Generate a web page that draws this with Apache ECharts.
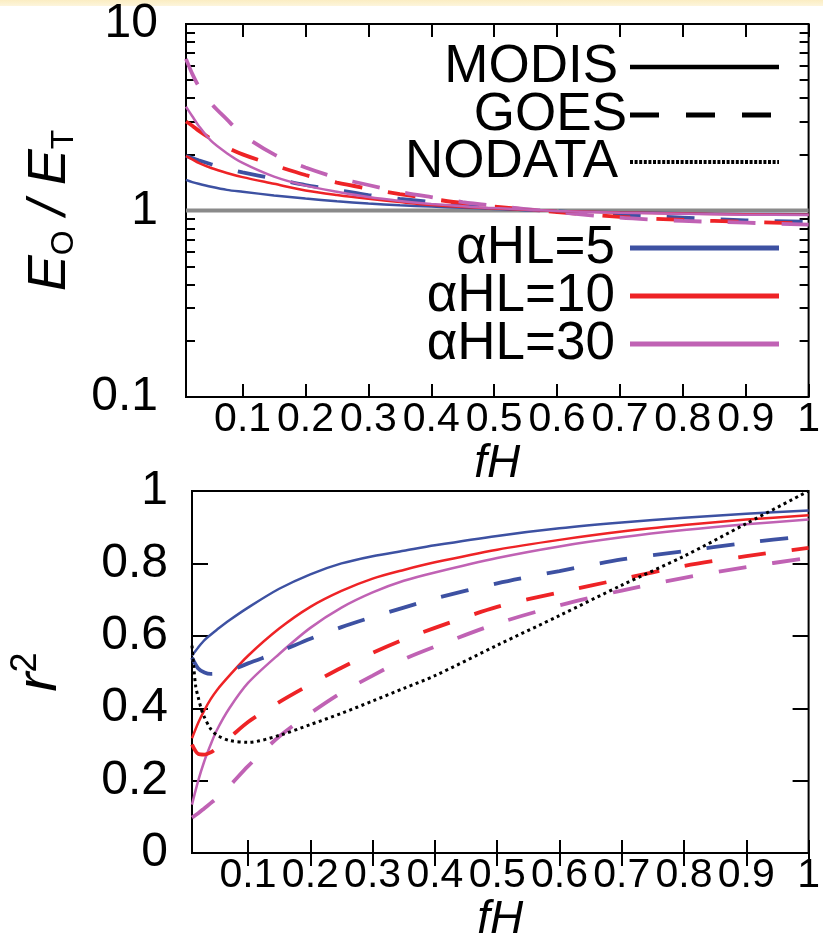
<!DOCTYPE html>
<html>
<head>
<meta charset="utf-8">
<script src="https://cdn.jsdelivr.net/npm/echarts@6/dist/echarts.min.js"></script>
<style>
  html, body { margin: 0; padding: 0; background: #fff; }
  #chart { width: 823px; height: 944px; }
</style>
</head>
<body>
<div id="chart"></div>
<script>
// ---- data ----
// top panel: E_O / E_T against fH (log y)
var fhTop = [0.01, 0.02, 0.03, 0.05, 0.075, 0.1, 0.15, 0.2, 0.25, 0.3, 0.35, 0.4, 0.45, 0.5, 0.6, 0.7, 0.8, 0.9, 1.0];
var ratioModis5  = [1.46, 1.42, 1.39, 1.34, 1.29, 1.26, 1.205, 1.16, 1.12, 1.09, 1.066, 1.05, 1.035, 1.02, 0.995, 0.978, 0.966, 0.958, 0.955];
var ratioModis10 = [1.96, 1.88, 1.80, 1.69, 1.59, 1.51, 1.39, 1.28, 1.21, 1.155, 1.11, 1.07, 1.045, 1.025, 0.995, 0.975, 0.963, 0.955, 0.95];
var ratioModis30 = [3.6, 3.2, 2.85, 2.36, 2.03, 1.80, 1.52, 1.36, 1.26, 1.18, 1.125, 1.085, 1.055, 1.03, 0.995, 0.972, 0.96, 0.95, 0.945];
var ratioGoes5   = [1.96, 1.91, 1.86, 1.77, 1.67, 1.60, 1.48, 1.37, 1.29, 1.21, 1.155, 1.11, 1.065, 1.035, 0.99, 0.95, 0.915, 0.885, 0.87];
var ratioGoes10  = [3.0, 2.85, 2.68, 2.42, 2.18, 2.0, 1.75, 1.55, 1.41, 1.31, 1.225, 1.155, 1.095, 1.05, 0.98, 0.925, 0.89, 0.87, 0.85];
var ratioGoes30  = [6.5, 5.4, 4.65, 3.75, 3.08, 2.55, 2.0, 1.70, 1.50, 1.37, 1.26, 1.18, 1.11, 1.06, 0.98, 0.915, 0.88, 0.86, 0.84];
var refFh = [0.01, 1.0];
var refRatio = [1, 1];

// bottom panel: r^2 against fH
var fhBot = [0.01, 0.02, 0.03, 0.04, 0.05, 0.07, 0.1, 0.15, 0.2, 0.25, 0.3, 0.35, 0.4, 0.5, 0.6, 0.7, 0.8, 0.9, 1.0];
var r2Modis5  = [0.546, 0.568, 0.588, 0.603, 0.617, 0.643, 0.678, 0.73, 0.77, 0.80, 0.82, 0.835, 0.85, 0.876, 0.897, 0.913, 0.926, 0.937, 0.946];
var r2Modis10 = [0.317, 0.36, 0.395, 0.425, 0.45, 0.49, 0.545, 0.62, 0.68, 0.724, 0.758, 0.782, 0.803, 0.838, 0.865, 0.888, 0.906, 0.921, 0.933];
var r2Modis30 = [0.134, 0.20, 0.255, 0.30, 0.34, 0.40, 0.47, 0.55, 0.622, 0.678, 0.72, 0.752, 0.775, 0.815, 0.847, 0.872, 0.892, 0.908, 0.921];
var r2Goes5   = [0.54, 0.51, 0.499, 0.495, 0.496, 0.503, 0.524, 0.556, 0.592, 0.624, 0.652, 0.678, 0.703, 0.745, 0.779, 0.811, 0.834, 0.857, 0.876];
var r2Goes10  = [0.30, 0.274, 0.272, 0.278, 0.29, 0.318, 0.362, 0.417, 0.466, 0.512, 0.553, 0.59, 0.622, 0.68, 0.72, 0.757, 0.793, 0.82, 0.843];
var r2Goes30  = [0.098, 0.11, 0.124, 0.138, 0.152, 0.185, 0.24, 0.322, 0.386, 0.443, 0.49, 0.535, 0.57, 0.634, 0.684, 0.725, 0.76, 0.79, 0.815];
var fhNodata = [0.01, 0.0125, 0.016, 0.02, 0.025, 0.03, 0.04, 0.05, 0.07, 0.1, 0.15, 0.2, 0.25, 0.3, 0.35, 0.4, 0.5, 0.6, 0.7, 0.8, 0.9, 1.0];
var r2Nodata = [0.573, 0.52, 0.46, 0.43, 0.397, 0.375, 0.343, 0.326, 0.311, 0.306, 0.325, 0.355, 0.386, 0.42, 0.455, 0.49, 0.574, 0.656, 0.74, 0.82, 0.91, 1.0];

// tick values
var xTicks = [0.1, 0.2, 0.3, 0.4, 0.5, 0.6, 0.7, 0.8, 0.9, 1];
var logMajor = [0.1, 1, 10];
var logMinor = [0.2, 0.3, 0.4, 0.5, 0.6, 0.7, 0.8, 0.9, 2, 3, 4, 5, 6, 7, 8, 9];

var legendSources = ['MODIS', 'GOES', 'NODATA'];
var legendAlpha = ['\u03b1HL=5', '\u03b1HL=10', '\u03b1HL=30'];

var BLUE = '#3d51a2', RED = '#ee2326', MAG = '#c062b4';
var FONT = 'Liberation Sans, Arial, Helvetica, sans-serif';

function pairs(xs, ys) {
  return xs.map(function (x, i) { return [x, ys[i]]; });
}

var chart = echarts.init(document.getElementById('chart'));

// x axes: labelled one at bottom, tick-only mirror at top
function xAxisFor(grid, withLabels) {
  return {
    gridIndex: grid, type: 'value', min: 0.01, max: 1,
    position: withLabels ? 'bottom' : 'top',
    axisLine: { show: false },
    splitLine: { show: false },
    axisTick: { show: true, inside: true, length: 13, customValues: xTicks,
      lineStyle: { color: '#000', width: 2 } },
    axisLabel: { show: withLabels, customValues: xTicks, margin: 2,
      fontSize: 41, color: '#000', fontFamily: FONT },
    name: withLabels ? 'fH' : '',
    nameLocation: 'middle', nameGap: 38,
    nameTextStyle: { fontSize: 46, fontStyle: 'italic', color: '#000', fontFamily: FONT }
  };
}

function logAxis(pos, ticks, len, withLabels) {
  return {
    gridIndex: 0, type: 'log', logBase: 10, min: 0.1, max: 10, position: pos,
    axisLine: { show: false },
    splitLine: { show: false },
    axisTick: { show: true, inside: true, length: len, customValues: ticks,
      lineStyle: { color: '#000', width: 2 } },
    axisLabel: { show: withLabels, customValues: logMajor, margin: 28,
      fontSize: 48, color: '#000', fontFamily: FONT }
  };
}

var topY = logAxis('left', logMajor, 16, true);
topY.name = '{e|E}{s|O}{e| / E}{s|T}';
topY.nameLocation = 'middle';
topY.nameRotate = 90;
topY.nameGap = 102;
topY.nameTextStyle = {
  color: '#000',
  rich: {
    e: { fontSize: 54, fontStyle: 'italic', fontFamily: FONT, lineHeight: 60 },
    s: { fontSize: 32, fontFamily: FONT, verticalAlign: 'bottom', lineHeight: 40 }
  }
};

function linAxis(pos, withLabels) {
  var a = {
    gridIndex: 1, type: 'value', min: 0, max: 1, interval: 0.2, position: pos,
    axisLine: { show: false },
    splitLine: { show: false },
    axisTick: { show: true, inside: true, length: 16, lineStyle: { color: '#000', width: 2 } },
    axisLabel: { show: withLabels, margin: 24, fontSize: 48, color: '#000', fontFamily: FONT }
  };
  if (withLabels) {
    a.name = '{e|r}{p|2}';
    a.nameLocation = 'middle';
    a.nameRotate = 90;
    a.nameGap = 120;
    a.nameTextStyle = {
      color: '#000',
      rich: {
        e: { fontSize: 58, fontStyle: 'italic', fontFamily: FONT, lineHeight: 64 },
        p: { fontSize: 36, fontFamily: FONT, verticalAlign: 'top', lineHeight: 40 }
      }
    };
  }
  return a;
}

function curve(name, xs, ys, xi, yi, color, kind) {
  var ls = { color: color, width: 2.5, type: 'solid', cap: 'butt' };
  if (kind === 'dash') { ls.width = 3.8; ls.type = [28, 26]; }
  if (kind === 'dot') { ls.width = 3; ls.type = [3, 3.5]; }
  return {
    name: name, type: 'line', xAxisIndex: xi, yAxisIndex: yi,
    data: pairs(xs, ys), showSymbol: false, symbol: 'none',
    smooth: 0.3, lineStyle: ls, silent: true, animation: false
  };
}

// legend (drawn as graphics, text to the left of the sample line)
var legendRows = [
  { t: legendSources[0], y: 67, c: '#000', w: 4.5, d: null, tx: 618 },
  { t: legendSources[1], y: 115, c: '#000', w: 5, d: [29, 27], tx: 627 },
  { t: legendSources[2], y: 162, c: '#000', w: 4, d: [3, 1.6], tx: 618 },
  { t: legendAlpha[0], y: 248, c: BLUE, w: 5, d: null, tx: 615 },
  { t: legendAlpha[1], y: 296, c: RED, w: 5, d: null, tx: 615 },
  { t: legendAlpha[2], y: 344, c: MAG, w: 5, d: null, tx: 615 }
];
var graphics = [{
  type: 'rect', silent: true, z: -1,
  shape: { x: 0, y: 0, width: 823, height: 6 },
  style: { fill: new echarts.graphic.LinearGradient(0, 0, 0, 1, [
    { offset: 0, color: '#fbedc2' }, { offset: 1, color: '#fdf5dc' }]) }
}];
legendRows.forEach(function (r) {
  graphics.push({
    type: 'text', silent: true,
    style: { text: r.t, x: r.tx, y: r.y, align: 'right', verticalAlign: 'middle',
      fontSize: 53, fontFamily: FONT, fill: '#000' }
  });
  graphics.push({
    type: 'line', silent: true,
    shape: { x1: 630, y1: r.y, x2: 779, y2: r.y },
    style: { stroke: r.c, lineWidth: r.w, lineDash: r.d || null, lineCap: 'butt' }
  });
});

var option = {
  backgroundColor: '#fff',
  animation: false,
  grid: [
    { left: 186, top: 24, width: 628, height: 373, show: true, borderColor: '#000', borderWidth: 2, backgroundColor: 'transparent' },
    { left: 187, top: 491, width: 627, height: 372, show: true, borderColor: '#000', borderWidth: 2, backgroundColor: 'transparent' }
  ],
  xAxis: [xAxisFor(0, true), xAxisFor(0, false), xAxisFor(1, true), xAxisFor(1, false)],
  yAxis: [
    topY,
    logAxis('left', logMinor, 9, false),
    logAxis('right', logMajor, 16, false),
    logAxis('right', logMinor, 9, false),
    linAxis('left', true),
    linAxis('right', false)
  ],
  graphic: graphics,
  series: [
    {
      type: 'line', xAxisIndex: 0, yAxisIndex: 0, data: pairs(refFh, refRatio),
      showSymbol: false, symbol: 'none', silent: true,
      lineStyle: { color: '#8a8a8a', width: 4 }
    },
    curve('GOES aHL=5', fhTop, ratioGoes5, 0, 0, BLUE, 'dash'),
    curve('GOES aHL=10', fhTop, ratioGoes10, 0, 0, RED, 'dash'),
    curve('GOES aHL=30', fhTop, ratioGoes30, 0, 0, MAG, 'dash'),
    curve('MODIS aHL=5', fhTop, ratioModis5, 0, 0, BLUE, 'solid'),
    curve('MODIS aHL=10', fhTop, ratioModis10, 0, 0, RED, 'solid'),
    curve('MODIS aHL=30', fhTop, ratioModis30, 0, 0, MAG, 'solid'),

    curve('MODIS aHL=5', fhBot, r2Modis5, 2, 4, BLUE, 'solid'),
    curve('MODIS aHL=10', fhBot, r2Modis10, 2, 4, RED, 'solid'),
    curve('MODIS aHL=30', fhBot, r2Modis30, 2, 4, MAG, 'solid'),
    curve('GOES aHL=5', fhBot, r2Goes5, 2, 4, BLUE, 'dash'),
    curve('GOES aHL=10', fhBot, r2Goes10, 2, 4, RED, 'dash'),
    curve('GOES aHL=30', fhBot, r2Goes30, 2, 4, MAG, 'dash'),
    curve('NODATA', fhNodata, r2Nodata, 2, 4, '#000', 'dot')
  ]
};
chart.setOption(option);
</script>
</body>
</html>
